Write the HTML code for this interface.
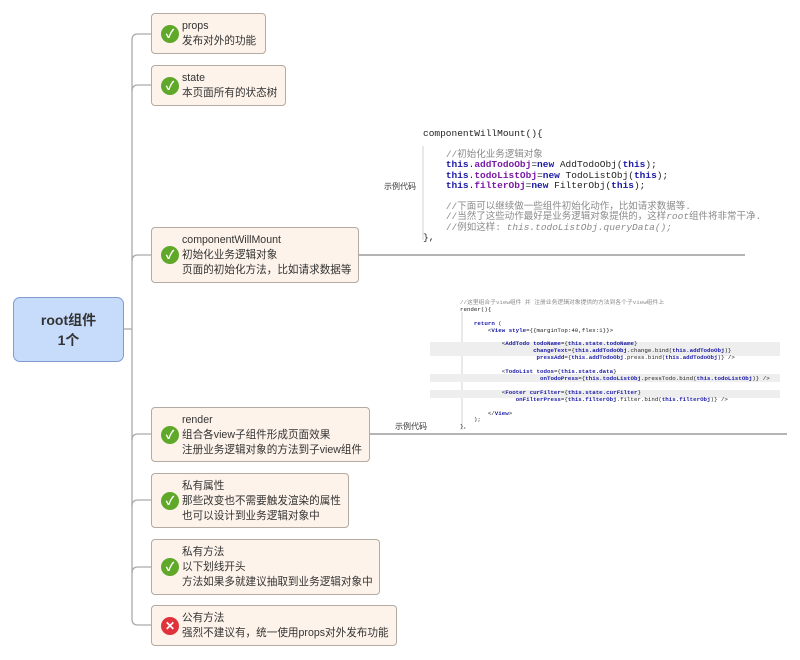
<!DOCTYPE html>
<html><head><meta charset="utf-8"><style>
body{margin:0;width:800px;height:660px;background:#fff;position:relative;overflow:hidden;font-family:"Liberation Sans","Noto Sans CJK SC",sans-serif;}
.n{position:absolute;left:151px;background:#fdf3ea;border:1px solid #b3aaa2;border-radius:4px;box-sizing:border-box;font-size:10.6px;color:#333;line-height:15px;padding:0 0 0 30px;}
.n .t{position:absolute;left:30px;white-space:nowrap;}
.ic{position:absolute;left:9px;width:18px;height:18px;border-radius:50%;background:#5fa82a;color:#fff;font-size:12px;line-height:18px;text-align:center;font-weight:bold}
.x{background:#e0323a}
.code{position:absolute;font-family:"Liberation Mono","Noto Sans CJK SC",monospace;white-space:pre;}
.c{color:#8a8a8a}.k{color:#1a1aa6;font-weight:bold}.p{color:#7a1aa6;font-weight:bold}
.lbl{position:absolute;font-size:8px;color:#333}
</style></head><body>
<svg width="800" height="660" style="position:absolute;left:0;top:0">
<g fill="none" stroke="#aaa" stroke-width="1.3">
<path d="M124 329H132"/>
<path d="M151 34H138Q132 34 132 40V619Q132 625 138 625H151"/>
<path d="M132 91Q132 85 138 85H151"/>
<path d="M132 261Q132 255 138 255H151"/>
<path d="M132 440Q132 434 138 434H151"/>
<path d="M132 506Q132 500 138 500H151"/>
<path d="M132 573Q132 567 138 567H151"/>
<path d="M359 255H745" stroke="#888"/>
<path d="M370 434H787" stroke="#888"/>
<path d="M423 146V240" stroke="#ddd"/>
<path d="M462 312V430" stroke="#ddd"/>
</g>
<rect x="430" y="342" width="350" height="14" fill="#eee"/>
<rect x="430" y="374" width="350" height="8" fill="#eee"/>
<rect x="430" y="390" width="350" height="8" fill="#eee"/>
</svg>
<div style="position:absolute;left:13px;top:297px;width:111px;height:65px;box-sizing:border-box;background:#c7dbfb;border:1px solid #7f9bd0;border-radius:7px;text-align:center;font-weight:bold;font-size:14px;color:#333;line-height:20px;padding-top:12px">root组件<br>1个</div>
<div class="n" style="top:13px;width:115px;height:41px"><div class="ic" style="top:11px">✓</div><div class="t" style="top:5px">props<br>发布对外的功能</div></div>
<div class="n" style="top:65px;width:135px;height:41px"><div class="ic" style="top:11px">✓</div><div class="t" style="top:5px">state<br>本页面所有的状态树</div></div>
<div class="n" style="top:227px;width:208px;height:56px"><div class="ic" style="top:18px">✓</div><div class="t" style="top:5px">componentWillMount<br>初始化业务逻辑对象<br>页面的初始化方法，比如请求数据等</div></div>
<div class="n" style="top:407px;width:219px;height:55px"><div class="ic" style="top:18px">✓</div><div class="t" style="top:5px">render<br>组合各view子组件形成页面效果<br>注册业务逻辑对象的方法到子view组件</div></div>
<div class="n" style="top:473px;width:198px;height:55px"><div class="ic" style="top:18px">✓</div><div class="t" style="top:5px">私有属性<br>那些改变也不需要触发渲染的属性<br>也可以设计到业务逻辑对象中</div></div>
<div class="n" style="top:539px;width:229px;height:56px"><div class="ic" style="top:18px">✓</div><div class="t" style="top:5px">私有方法<br>以下划线开头<br>方法如果多就建议抽取到业务逻辑对象中</div></div>
<div class="n" style="top:605px;width:246px;height:41px"><div class="ic x" style="top:11px">✕</div><div class="t" style="top:5px">公有方法<br>强烈不建议有，统一使用props对外发布功能</div></div>
<div class="lbl" style="left:384px;top:181px">示例代码</div>
<div class="lbl" style="left:395px;top:421px">示例代码</div>
<div class="code" style="left:423px;top:129px;font-size:9.5px;line-height:10.4px;color:#222">componentWillMount(){

    <span class="c">//初始化业务逻辑对象</span>
    <span class="k">this</span>.<span class="p">addTodoObj</span>=<span class="k">new</span> AddTodoObj(<span class="k">this</span>);
    <span class="k">this</span>.<span class="p">todoListObj</span>=<span class="k">new</span> TodoListObj(<span class="k">this</span>);
    <span class="k">this</span>.<span class="p">filterObj</span>=<span class="k">new</span> FilterObj(<span class="k">this</span>);

    <span class="c">//下面可以继续做一些组件初始化动作，比如请求数据等.</span>
    <span class="c">//当然了这些动作最好是业务逻辑对象提供的，这样<i>root</i>组件将非常干净.</span>
    <span class="c">//例如这样: <i>this.todoListObj.queryData();</i></span>
},</div>
<div class="code" style="left:460px;top:300px;font-size:5.8px;line-height:6.9px;color:#222"><span class="c">//这里组合子view组件 并 注册业务逻辑对象提供的方法到各个子view组件上</span>
render(){

    <span class="k">return</span> (
        &lt;<span class="k">View style</span>={{marginTop:40,flex:1}}&gt;

            &lt;<span class="k">AddTodo todoName</span>={<span class="k">this.state.todoName</span>}
                     <span class="k">changeText</span>={<span class="k">this.addTodoObj</span>.change.bind(<span class="k">this.addTodoObj</span>)}
                      <span class="k">pressAdd</span>={<span class="k">this.addTodoObj</span>.press.bind(<span class="k">this.addTodoObj</span>)} /&gt;

            &lt;<span class="k">TodoList todos</span>={<span class="k">this.state.data</span>}
                       <span class="k">onTodoPress</span>={<span class="k">this.todoListObj</span>.pressTodo.bind(<span class="k">this.todoListObj</span>)} /&gt;

            &lt;<span class="k">Footer curFilter</span>={<span class="k">this.state.curFilter</span>}
                <span class="k">onFilterPress</span>={<span class="k">this.filterObj</span>.filter.bind(<span class="k">this.filterObj</span>)} /&gt;

        &lt;/<span class="k">View</span>&gt;
    );
},</div>
</body></html>
